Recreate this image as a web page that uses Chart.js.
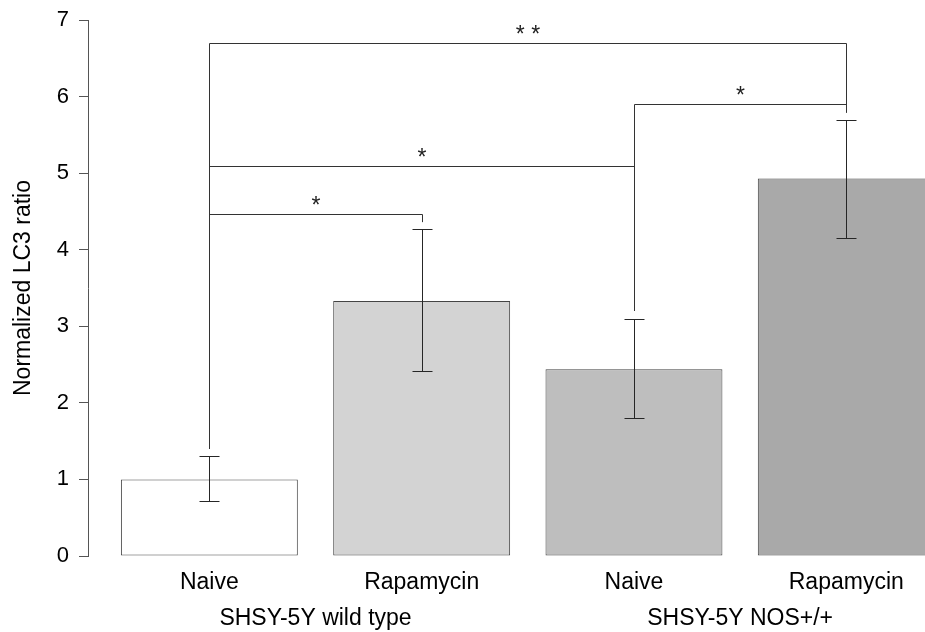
<!DOCTYPE html>
<html>
<head>
<meta charset="utf-8">
<title>Normalized LC3 ratio</title>
<script src="https://cdn.jsdelivr.net/npm/chart.js@4.4.1/dist/chart.umd.min.js"></script>
<style>
  html, body { margin: 0; padding: 0; background: #fff; overflow: hidden; }
  .wrap { position: relative; width: 925px; height: 632px; }
</style>
</head>
<body>
<div class="wrap"><canvas class="chart"></canvas></div>
<script>
const CATEGORIES = ["Naive", "Rapamycin", "Naive", "Rapamycin"];
const GROUPS = ["SHSY-5Y wild type", "SHSY-5Y NOS+/+"];
const MEANS = [1.0, 3.33, 2.44, 4.93];
const ERR_LOW = [0.715, 2.41, 1.80, 4.15];
const ERR_HIGH = [1.30, 4.265, 3.10, 5.695];
const Y_TICKS = [0, 1, 2, 3, 4, 5, 6, 7];

// significance brackets: bar pairs, bracket height, where each leg stops, label
const SIG_PAIRS = [[0, 1], [0, 2], [2, 3], [0, 3]];
const SIG_HEIGHTS = [4.47, 5.095, 5.9, 6.7];
const SIG_ENDS = [[1.4, 4.36], [1.4, 3.2], [3.2, 5.79], [1.4, 5.79]];
const SIG_LABELS = ["*", "*", "*", "* *"];

const FILLS = ["#ffffff", "#d3d3d3", "#bebebe", "#a9a9a9"];
const FONT = "'Liberation Sans', Arial, sans-serif";

// barplot-style positions: width 1, space 0.2
const barX = CATEGORIES.map((_, i) => 0.7 + 1.2 * i);
const groupX = GROUPS.map((_, g) => (barX[2 * g] + barX[2 * g + 1]) / 2);

const crisp = (v) => Math.round(v) + 0.5;

const annotations = {
  id: "annotations",
  afterDatasetsDraw(chart) {
    const { ctx } = chart;
    const y = chart.scales.y;
    const bars = chart.getDatasetMeta(0).data;
    ctx.save();
    ctx.lineWidth = 1;
    ctx.strokeStyle = "#262626";

    // error bars
    bars.forEach((bar, i) => {
      const px = crisp(bar.x);
      const lo = crisp(y.getPixelForValue(ERR_LOW[i]));
      const hi = crisp(y.getPixelForValue(ERR_HIGH[i]));
      ctx.beginPath();
      ctx.moveTo(px, lo);
      ctx.lineTo(px, hi);
      ctx.moveTo(px - 10, lo);
      ctx.lineTo(px + 10, lo);
      ctx.moveTo(px - 10, hi);
      ctx.lineTo(px + 10, hi);
      ctx.stroke();
    });

    // brackets
    ctx.strokeStyle = "#333";
    ctx.fillStyle = "#222";
    ctx.font = "23px " + FONT;
    ctx.textAlign = "center";
    ctx.textBaseline = "alphabetic";
    SIG_PAIRS.forEach(([a, b], k) => {
      const xa = crisp(bars[a].x);
      const xb = crisp(bars[b].x);
      const top = crisp(y.getPixelForValue(SIG_HEIGHTS[k]));
      ctx.beginPath();
      ctx.moveTo(xa, y.getPixelForValue(SIG_ENDS[k][0]));
      ctx.lineTo(xa, top);
      ctx.lineTo(xb, top);
      ctx.lineTo(xb, y.getPixelForValue(SIG_ENDS[k][1]));
      ctx.stroke();
      ctx.fillText(SIG_LABELS[k], (xa + xb) / 2, top - 2);
    });
    ctx.restore();
  },
};

function createChart() {
  const chartElement = document.querySelector(".chart");
  if (!chartElement) {
    return;
  }

  const xCommon = {
    type: "linear",
    position: "bottom",
    min: 0.014,
    max: 4.745,
    offset: false,
    grid: { display: false, drawTicks: false },
    border: { display: false },
  };

  new Chart(chartElement, {
    type: "bar",
    data: {
      datasets: [
        {
          data: MEANS.map((m, i) => ({ x: barX[i], y: m })),
          backgroundColor: FILLS,
          borderColor: "#444",
          borderWidth: 1,
          borderSkipped: false,
          barPercentage: 1 / 1.2,
          categoryPercentage: 1,
        },
      ],
    },
    options: {
      responsive: true,
      maintainAspectRatio: false,
      animation: false,
      layout: { padding: { top: 20, right: 0, bottom: 0, left: 0 } },
      plugins: {
        legend: { display: false },
        tooltip: { enabled: false },
      },
      scales: {
        x: {
          ...xCommon,
          afterBuildTicks: (scale) => {
            scale.ticks = barX.map((v) => ({ value: v }));
          },
          afterFit: (scale) => {
            scale.height = 39;
          },
          ticks: {
            autoSkip: false,
            maxRotation: 0,
            padding: 13,
            color: "#000",
            font: { family: FONT, size: 23 },
            callback: (value, index) => CATEGORIES[index],
          },
        },
        x2: {
          ...xCommon,
          afterBuildTicks: (scale) => {
            scale.ticks = groupX.map((v) => ({ value: v }));
          },
          afterFit: (scale) => {
            scale.height = 37;
          },
          ticks: {
            autoSkip: false,
            maxRotation: 0,
            padding: 10,
            color: "#000",
            font: { family: FONT, size: 23 },
            callback: (value, index) => GROUPS[index],
          },
        },
        y: {
          min: 0,
          max: 7,
          afterBuildTicks: (scale) => {
            scale.ticks = Y_TICKS.map((v) => ({ value: v }));
          },
          afterFit: (scale) => {
            scale.width = 88;
            scale.paddingTop = 0;
            scale.paddingBottom = 0;
          },
          grid: {
            drawOnChartArea: false,
            drawTicks: true,
            tickLength: 9,
            color: "#555",
          },
          border: { display: true, color: "#555", width: 1 },
          ticks: {
            padding: 10,
            color: "#000",
            font: { family: FONT, size: 22 },
          },
          title: {
            display: true,
            text: "Normalized LC3 ratio",
            color: "#000",
            font: { family: FONT, size: 23 },
            padding: { top: 10, bottom: 0 },
          },
        },
      },
    },
    plugins: [annotations],
  });
}

createChart();
</script>
</body>
</html>
